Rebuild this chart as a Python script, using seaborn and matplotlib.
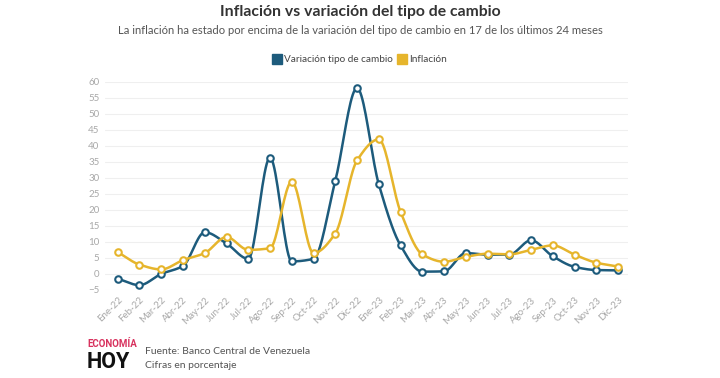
import numpy as np
import pandas as pd
import matplotlib
matplotlib.use('Agg')
import matplotlib.pyplot as plt
import seaborn as sns

meses = ['Ene-22', 'Feb-22', 'Mar-22', 'Abr-22', 'May-22', 'Jun-22', 'Jul-22', 'Ago-22',
         'Sep-22', 'Oct-22', 'Nov-22', 'Dic-22', 'Ene-23', 'Feb-23', 'Mar-23', 'Abr-23',
         'May-23', 'Jun-23', 'Jul-23', 'Ago-23', 'Sep-23', 'Oct-23', 'Nov-23', 'Dic-23']
tipo_cambio = [-1.5, -3.5, 0.0, 2.5, 13.0, 9.5, 4.7, 36.3, 3.9, 4.7, 29.0, 58.0,
               28.0, 8.9, 0.7, 0.8, 6.5, 6.0, 6.0, 10.5, 5.5, 2.2, 1.2, 1.1]
inflacion = [6.8, 2.9, 1.4, 4.3, 6.5, 11.5, 7.5, 8.0, 28.8, 6.5, 12.6, 35.4,
             42.0, 19.4, 6.1, 3.8, 5.3, 6.3, 6.1, 7.5, 8.9, 6.0, 3.5, 2.3]

AZUL = '#1d5b7c'
AMARILLO = '#e6b52c'


def monotone(y, n=20):
    # curva monotona (tipo d3 curveMonotoneX) solo para dibujar la linea
    y = np.asarray(y, float)
    x = np.arange(len(y), dtype=float)
    d = np.diff(y)
    m = np.zeros(len(y))
    m[0], m[-1] = d[0], d[-1]
    for i in range(1, len(y) - 1):
        if d[i - 1] * d[i] <= 0:
            m[i] = 0
        else:
            m[i] = 2 / (1 / d[i - 1] + 1 / d[i])
    xs, ys = [], []
    for i in range(len(y) - 1):
        t = np.linspace(0, 1, n, endpoint=False)
        h00 = 2 * t**3 - 3 * t**2 + 1
        h10 = t**3 - 2 * t**2 + t
        h01 = -2 * t**3 + 3 * t**2
        h11 = t**3 - t**2
        xs.append(x[i] + t)
        ys.append(h00 * y[i] + h10 * m[i] + h01 * y[i + 1] + h11 * m[i + 1])
    xs.append([x[-1]])
    ys.append([y[-1]])
    return np.concatenate(xs), np.concatenate(ys)


sns.set_theme(style='white')
plt.rcParams['font.family'] = ['Lato', 'DejaVu Sans']

fig = plt.figure(figsize=(7.2, 3.78), dpi=100)
ax = fig.add_axes([0.146, 0.233, 0.726, 0.551])

for serie, color, nombre in [(tipo_cambio, AZUL, 'Variación tipo de cambio'),
                             (inflacion, AMARILLO, 'Inflación')]:
    xs, ys = monotone(serie)
    sns.lineplot(x=xs, y=ys, ax=ax, color=color, linewidth=1.8, label=nombre, zorder=3)
    sns.scatterplot(x=np.arange(len(serie)), y=serie, ax=ax, color='white',
                    edgecolor=color, linewidth=1.5, s=22, zorder=4)

ax.set_xlim(-0.58, 23.45)
ax.set_ylim(-5, 60)
ax.set_yticks(range(-5, 61, 5))
ax.set_xticks(range(len(meses)))
ax.set_xticklabels(meses, rotation=45, ha='right', rotation_mode='anchor')
ax.tick_params(axis='both', labelsize=7, colors='#a8a8a8', length=0, pad=4)
ax.grid(axis='y', color='#efefef', linewidth=0.8)
ax.set_axisbelow(True)
for s in ax.spines.values():
    s.set_visible(False)

ax.legend().remove()
handles = [plt.Line2D([], [], marker='s', linestyle='', markersize=6.5, color=AZUL),
           plt.Line2D([], [], marker='s', linestyle='', markersize=6.5, color=AMARILLO)]
fig.legend(handles, ['Variación tipo de cambio', 'Inflación'], loc='center',
           bbox_to_anchor=(0.5, 0.842), ncol=2, frameon=False, fontsize=7.2,
           handlelength=0.7, handletextpad=0.35, columnspacing=0.6,
           labelcolor='#444444')

fig.text(0.5, 0.968, 'Inflación vs variación del tipo de cambio', ha='center', va='center',
         fontsize=11.3, fontweight='bold', color='#333333')
fig.text(0.5, 0.918, 'La inflación ha estado por encima de la variación del tipo de cambio en 17 de los últimos 24 meses',
         ha='center', va='center', fontsize=8.1, color='#555555')

# pie
fig.text(0.121, 0.090, 'ECONOMÍA', ha='left', va='center', fontsize=7,
         family=['Roboto', 'DejaVu Sans'], fontweight='bold', color='#d8335f')
fig.text(0.121, 0.042, 'HOY', ha='left', va='center', fontsize=15.5,
         family=['Roboto', 'DejaVu Sans'], fontweight='bold', color='#111111')
fig.text(0.201, 0.070, 'Fuente: Banco Central de Venezuela', ha='left', va='center',
         fontsize=7.5, color='#555555')
fig.text(0.201, 0.034, 'Cifras en porcentaje', ha='left', va='center',
         fontsize=7.5, color='#555555')

fig.savefig('out.png', dpi=100)
